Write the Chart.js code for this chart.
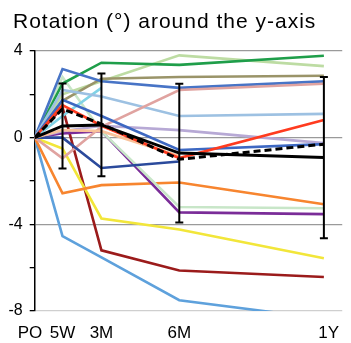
<!DOCTYPE html>
<html>
<head>
<meta charset="utf-8">
<script src="https://cdn.jsdelivr.net/npm/chart.js@4/dist/chart.umd.min.js"></script>
<style>
  html, body { margin: 0; padding: 0; background: #fff; }
  #wrap { position: relative; width: 351px; height: 343px; }
  #title {
    position: absolute; left: 13px; top: 10px; margin: 0;
    font: 21px "Liberation Sans", Arial, sans-serif; line-height: 21px;
    letter-spacing: 1px; color: #000; font-weight: normal; white-space: nowrap;
  }
</style>
</head>
<body>
<div id="wrap">
  <h1 id="title">Rotation (°) around the y-axis</h1>
  <canvas id="chart" width="351" height="343"></canvas>
</div>
<script>
// time points (weeks after surgery) and their labels
const weeks = [0, 5, 12, 26, 52];
const timeLabels = ["PO  ", "5W", "3M", "6M", "  1Y"];
const yTicks = [-8, -4, 0, 4];

// group mean / SD (error bars) and median (dashed)
const meanVals = [0, 0.54, 0.59, -0.71, -0.92];
const sdVals = [0, 1.96, 2.37, 3.2, 3.72];
const medianVals = [0, 1.33, 0.63, -1.0, -0.3];

// individual subjects
const green = [0, 2.5, 3.46, 3.36, 3.78];
const lightGreen = [0, 2.0, 2.6, 3.8, 3.3];
const olive = [0, 1.7, 2.72, 2.8, 2.86];
const blueA = [0, 3.17, 2.6, 2.3, 2.6];
const pink = [0, -0.95, 0.5, 2.2, 2.49];
const lightBlue = [0, 2.2, 1.9, 1.0, 1.1];
const cyan = [0, 1.0, 2.3, null, null];
const red = [0, 1.5, 0.55, -0.94, 0.82];
const lavender = [0, 0.3, 0.55, 0.35, -0.25];
const blueB = [0, 1.75, 1.0, -0.57, -0.3];
const peach = [0, 0.35, 0.3, -0.85, null];
const navy = [0, 0, -1.4, -1.1, null];
const mint = [0, 2.8, 0.3, -3.2, -3.26];
const purple = [0, 0.2, 0.3, -3.45, -3.53];
const orange = [0, -2.57, -2.19, -2.07, -3.07];
const yellow = [0, -0.5, -3.73, -4.24, -5.57];
const darkRed = [0, 1.4, -5.2, -6.13, -6.43];
const skyBlue = [0, -4.54, -5.52, -7.5, -8.36];

const pts = (arr) => arr.map((v, i) => ({ x: weeks[i], y: v }));

const line = (data, color, extra = {}) => ({
  data: pts(data),
  borderColor: color,
  borderWidth: 2.6,
  pointRadius: 0,
  tension: 0,
  fill: false,
  ...extra,
});

// dataset 0 is painted last (on top)
const datasets = [
  line(meanVals, "#000", { borderWidth: 3 }),
  line(medianVals, "#000", { borderWidth: 3, borderDash: [7, 4] }),
  line(red, "#ff3b1f"),
  line(peach, "#f9c29a"),
  line(blueB, "#3d68c2"),
  line(navy, "#2b4a9c"),
  line(lavender, "#b7a9d5"),
  line(pink, "#e0a3a0"),
  line(lightBlue, "#9dc1e2"),
  line(cyan, "#80d2e6"),
  line(blueA, "#4874c6"),
  line(olive, "#9a9469"),
  line(green, "#1f9e4a"),
  line(lightGreen, "#bddca3"),
  line(mint, "#c8e6c8"),
  line(purple, "#7a2c98"),
  line(orange, "#f7852f"),
  line(yellow, "#f2e63a"),
  line(darkRed, "#9b1b1b"),
  line(skyBlue, "#5ea1dc"),
];

// mean ± SD bars, placed through the scales
const errorBars = {
  id: "errorBars",
  afterDatasetsDraw(chart) {
    const { ctx, scales: { x, y } } = chart;
    ctx.save();
    ctx.strokeStyle = "#000";
    ctx.lineWidth = 2;
    weeks.forEach((w, i) => {
      if (!sdVals[i]) return;
      const px = x.getPixelForValue(w);
      const top = y.getPixelForValue(meanVals[i] + sdVals[i]);
      const bot = y.getPixelForValue(meanVals[i] - sdVals[i]);
      ctx.beginPath();
      ctx.moveTo(px, top); ctx.lineTo(px, bot);
      ctx.moveTo(px - 4, top); ctx.lineTo(px + 4, top);
      ctx.moveTo(px - 4, bot); ctx.lineTo(px + 4, bot);
      ctx.stroke();
    });
    ctx.restore();
  },
};

const FONT = "'Liberation Sans', Arial, sans-serif";

new Chart(document.getElementById("chart"), {
  type: "line",
  data: { datasets },
  plugins: [errorBars],
  options: {
    responsive: false,
    animation: false,
    layout: { padding: { left: 0, right: 0, top: 51, bottom: 0 } },
    plugins: { legend: { display: false }, tooltip: { enabled: false } },
    scales: {
      x: {
        type: "linear",
        min: 0,
        max: 55.3,
        afterBuildTicks: (axis) => { axis.ticks = weeks.map((v) => ({ value: v })); },
        afterFit: (axis) => { axis.height = 32; },
        grid: { display: false, drawTicks: false },
        border: { display: false },
        ticks: {
          autoSkip: false,
          maxRotation: 0,
          padding: 12,
          color: "#000",
          font: { family: FONT, size: 17 },
          callback: (v) => timeLabels[weeks.indexOf(v)] ?? "",
        },
      },
      y: {
        min: -8,
        max: 4,
        afterFit: (axis) => { axis.width = 34.7; },
        ticks: {
          stepSize: 2,
          padding: 7,
          color: "#000",
          font: { family: FONT, size: 16 },
          callback: (v) => (yTicks.includes(v) ? String(v) : ""),
        },
        grid: {
          color: (c) => {
            const v = c.tick && c.tick.value;
            if (v === -8) return "#cfcfcf";
            return v % 4 === 0 ? "#9a9a9a" : "rgba(0,0,0,0)";
          },
          lineWidth: 1.3,
          tickColor: "#000",
          tickLength: 5,
          drawTicks: true,
        },
        border: { display: true, color: "#000", width: 1.5 },
      },
    },
  },
});
</script>
</body>
</html>
